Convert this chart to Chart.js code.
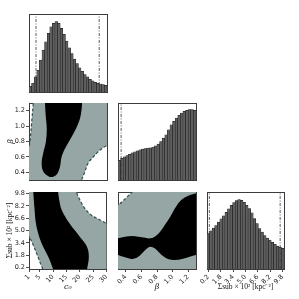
<!DOCTYPE html>
<html lang="en">
<head>
<meta charset="UTF-8">
<title>Corner plot</title>
<script src="https://cdn.jsdelivr.net/npm/chart.js"></script>
<style>
  html, body { margin: 0; padding: 0; background: #fff; }
  #wrap { position: relative; width: 299px; height: 299px; overflow: hidden; }
  #wrap canvas { position: absolute; }
</style>
</head>
<body>
<div id="wrap"></div>
<script>
// parameter ranges
var c0Range = [1, 30];
var betaRange = [0.3, 1.3];
var sigmaRange = [0, 10];

// tick values and labels
var c0Ticks = [1, 5, 10, 15, 20, 25, 30];
var c0TickLabels = ['1', '5', '10', '15', '20', '25', '30'];
var betaTicks = [0.4, 0.6, 0.8, 1.0, 1.2];
var betaTickLabels = ['0.4', '0.6', '0.8', '1.0', '1.2'];
var sigmaTicks = [0.2, 1.8, 3.4, 5.0, 6.6, 8.2, 9.8];
var sigmaTickLabels = ['0.2', '1.8', '3.4', '5.0', '6.6', '8.2', '9.8'];

// 1D marginal histograms (counts per bin)
var c0Counts = [17, 27, 45, 65, 95, 125, 150, 175, 195, 205, 210, 205, 190, 172, 152, 132, 115, 98, 85, 72, 62, 52, 45, 38, 33, 29, 26, 24, 22, 20];
var betaCounts = [59, 65, 69, 73, 77, 81, 84, 87, 90, 92, 94, 95, 96, 98, 102, 107, 115, 125, 135, 150, 165, 175, 185, 193, 200, 205, 208, 210, 210, 208];
var sigmaCounts = [107, 115, 123, 131, 141, 151, 160, 171, 181, 192, 200, 206, 209, 207, 201, 192, 182, 169, 152, 137, 122, 111, 101, 93, 87, 80, 74, 69, 65, 62];
var c0HistMax = 233, betaHistMax = 230, sigmaHistMax = 232;

// credible interval lines
var c0Lines = [3.6, 27.1];
var betaLines = [0.34];
var sigmaLines = [0.3, 9.5];

// c0 vs beta contours
var mlBlack = [{x: 6.9, y: 1.40}, {x: 6.95, y: 1.30}, {x: 7.2, y: 1.14}, {x: 7.6, y: 0.97}, {x: 7.3, y: 0.80}, {x: 6.3, y: 0.65}, {x: 5.7, y: 0.52}, {x: 6.3, y: 0.41}, {x: 8.2, y: 0.35}, {x: 9.8, y: 0.34}, {x: 11.3, y: 0.37}, {x: 12.5, y: 0.47}, {x: 13.1, y: 0.60}, {x: 14.4, y: 0.71}, {x: 16.5, y: 0.84}, {x: 18.5, y: 0.97}, {x: 19.96, y: 1.10}, {x: 20.6, y: 1.23}, {x: 20.7, y: 1.30}, {x: 20.8, y: 1.40}];
var mlLeftCurve = [{x: 1.0, y: 0.74}, {x: 1.37, y: 0.80}, {x: 2.0, y: 1.05}, {x: 2.6, y: 1.30}, {x: 2.75, y: 1.36}];
var mlRightCurve = [{x: 20.3, y: 0.24}, {x: 20.6, y: 0.30}, {x: 21.8, y: 0.41}, {x: 23.0, y: 0.52}, {x: 24.9, y: 0.60}, {x: 26.8, y: 0.67}, {x: 28.6, y: 0.72}, {x: 30.1, y: 0.75}, {x: 31, y: 0.77}];

// c0 vs sigma contours
var blBlack = [{x: 2.6, y: 10.5}, {x: 2.6, y: 10.0}, {x: 3.0, y: 8.1}, {x: 3.6, y: 5.9}, {x: 4.8, y: 4.2}, {x: 6.3, y: 2.9}, {x: 8.2, y: 1.6}, {x: 10.0, y: 0}, {x: 10.3, y: -0.5}, {x: 22.6, y: -0.5}, {x: 22.7, y: -0.1}, {x: 23.4, y: 1.6}, {x: 22.7, y: 2.9}, {x: 20.0, y: 4.2}, {x: 16.2, y: 5.9}, {x: 13.2, y: 7.7}, {x: 12.3, y: 9.0}, {x: 11.9, y: 10.0}, {x: 11.8, y: 10.5}];
var blTopCurve = [{x: 18.4, y: 10.5}, {x: 18.7, y: 10.0}, {x: 20.0, y: 9.0}, {x: 21.8, y: 7.9}, {x: 24.3, y: 7.0}, {x: 27.4, y: 6.4}, {x: 30.1, y: 5.9}, {x: 31, y: 5.8}];
var blLowCurve = [{x: 0.5, y: 4.5}, {x: 1.1, y: 4.2}, {x: 2.6, y: 3.1}, {x: 4.1, y: 1.8}, {x: 5.3, y: 0.7}, {x: 6.1, y: 0}, {x: 6.3, y: -0.5}];

// beta vs sigma contours
var bmBlack = [{x: 0.25, y: 3.9}, {x: 0.30, y: 3.98}, {x: 0.39, y: 4.2}, {x: 0.48, y: 4.29}, {x: 0.56, y: 4.2}, {x: 0.65, y: 4.07}, {x: 0.71, y: 3.98}, {x: 0.77, y: 4.2}, {x: 0.84, y: 4.85}, {x: 0.90, y: 5.72}, {x: 0.97, y: 6.8}, {x: 1.03, y: 7.88}, {x: 1.09, y: 8.75}, {x: 1.18, y: 9.4}, {x: 1.27, y: 9.74}, {x: 1.35, y: 9.8},
  {x: 1.35, y: 1.8}, {x: 1.30, y: 1.82}, {x: 1.22, y: 1.6}, {x: 1.12, y: 1.3}, {x: 1.03, y: 1.17}, {x: 0.95, y: 1.26}, {x: 0.86, y: 1.82}, {x: 0.77, y: 2.68}, {x: 0.71, y: 2.9}, {x: 0.65, y: 2.47}, {x: 0.56, y: 1.6}, {x: 0.48, y: 1.3}, {x: 0.39, y: 1.52}, {x: 0.30, y: 1.82}, {x: 0.25, y: 1.9}];
var bmCurve = [{x: 0.27, y: 8.1}, {x: 0.30, y: 8.3}, {x: 0.35, y: 8.7}, {x: 0.40, y: 9.2}, {x: 0.44, y: 9.6}, {x: 0.48, y: 10.0}, {x: 0.50, y: 10.3}];

// outer (grey) regions, built from the dashed boundaries
var mlGray = [{x: 0, y: 0.2}, {x: 0, y: 0.74}].concat(mlLeftCurve, [{x: 2.9, y: 1.45}, {x: 31, y: 1.45}], mlRightCurve.slice().reverse(), [{x: 20, y: 0.2}]);
var blGray = [{x: 0, y: 11}].concat(blTopCurve, [{x: 31, y: -1}], blLowCurve.slice().reverse(), [{x: 0, y: 4.5}]);
var bmGray = [{x: 0.2, y: -1}, {x: 0.2, y: 8.0}].concat(bmCurve, [{x: 0.52, y: 10.6}, {x: 1.4, y: 10.6}, {x: 1.4, y: -1}]);

var c0Title = 'c\u2080';
var betaTitle = '\u03b2';
var sigmaTitle = '\u03a3sub \u00d7 10\u00b2 [kpc\u207b\u00b2]';

var frameColor = '#3c3c3c';
var grayFill = '#96a6a5';
var tickFont = { family: 'DejaVu Sans', size: 6.5 };
var wrap = document.getElementById('wrap');

function binCenters(range, n) {
  var w = (range[1] - range[0]) / n;
  var out = [];
  for (var i = 0; i < n; i++) out.push(range[0] + (i + 0.5) * w);
  return out;
}

function histPoints(range, counts) {
  var xs = binCenters(range, counts.length);
  return counts.map(function (c, i) { return { x: xs[i], y: c }; });
}

function axis(dir, position, range, size, tickVals, tickLabels, title) {
  var showTicks = !!tickVals;
  var a = {
    type: 'linear', axis: dir, position: position,
    min: range[0], max: range[1], offset: false,
    grid: { display: showTicks, offset: false, drawOnChartArea: false, drawTicks: showTicks, tickLength: 3, tickColor: '#222', tickWidth: 0.8 },
    border: { display: true, color: frameColor, width: 1 },
    ticks: {
      display: showTicks, autoSkip: false, font: tickFont, color: '#222', padding: 1,
      minRotation: dir === 'x' ? 45 : 0, maxRotation: dir === 'x' ? 45 : 0,
      callback: function (v, i) { return tickLabels ? tickLabels[i] : ''; }
    },
    afterBuildTicks: function (s) {
      if (tickVals) s.ticks = tickVals.map(function (v) { return { value: v }; });
    },
    afterFit: function (s) { if (dir === 'x') s.height = size; else s.width = size; },
    title: { display: false }
  };
  if (title) {
    a.title = {
      display: true, text: title, color: '#111',
      font: { family: title === sigmaTitle ? 'Liberation Serif' : 'DejaVu Serif', size: title === sigmaTitle ? 7.5 : 8, style: title === sigmaTitle ? 'normal' : 'italic' },
      padding: dir === 'x' ? { top: 0, bottom: 7 } : { top: 6, bottom: 0 }
    };
  }
  return a;
}

function panel(box, m, datasets, xOpt, yOpt, type) {
  var c = document.createElement('canvas');
  c.width = box[2] - box[0] + m[0] + m[2];
  c.height = box[3] - box[1] + m[1] + m[3];
  c.style.left = (box[0] - m[0]) + 'px';
  c.style.top = (box[1] - m[1]) + 'px';
  wrap.appendChild(c);
  new Chart(c, {
    type: type,
    data: { datasets: datasets },
    options: {
      responsive: false, animation: false, events: [],
      layout: { padding: 0 },
      plugins: { legend: { display: false }, tooltip: { enabled: false } },
      scales: {
        x: axis('x', 'bottom', xOpt.range, m[3], xOpt.ticks, xOpt.labels, xOpt.title),
        y: axis('y', 'left', yOpt.range, m[0], yOpt.ticks, yOpt.labels, yOpt.title),
        x2: axis('x', 'top', [0, 1], m[1]),
        y2: axis('y', 'right', [0, 1], m[2])
      }
    }
  });
}

function histSets(range, counts, lines, top) {
  var sets = [{
    type: 'bar', data: histPoints(range, counts),
    backgroundColor: '#5e5e5e', borderColor: '#111', borderWidth: 0.5,
    barPercentage: 1, categoryPercentage: 1, order: 2
  }];
  lines.forEach(function (v) {
    sets.push({
      type: 'line', data: [{ x: v, y: 0 }, { x: v, y: top }],
      borderColor: '#333', borderWidth: 0.8, borderDash: [3, 1.5, 1, 1.5],
      pointRadius: 0, fill: false, order: 0
    });
  });
  return sets;
}

function region(points, color, order) {
  return {
    type: 'scatter', data: points, showLine: true, fill: 'shape',
    backgroundColor: color, borderWidth: 0, pointRadius: 0,
    tension: 0.35, capBezierPoints: false, order: order
  };
}

function dashed(points) {
  return {
    type: 'scatter', data: points, showLine: true, fill: false,
    borderColor: '#2f4f4f', borderWidth: 1.2, borderDash: [3, 2], pointRadius: 0,
    tension: 0.35, capBezierPoints: false, clip: 0, order: 0
  };
}

var noTicks = {};
// row 1
panel([29, 14, 107, 92], [29, 6, 6, 6], histSets(c0Range, c0Counts, c0Lines, c0HistMax),
  { range: c0Range }, { range: [0, c0HistMax] }, 'bar');
// row 2
panel([29, 103, 107, 180], [29, 6, 6, 6],
  [region(mlGray, grayFill, 3), region(mlBlack, '#000', 1), dashed(mlLeftCurve), dashed(mlRightCurve)],
  { range: c0Range }, { range: betaRange, ticks: betaTicks, labels: betaTickLabels, title: betaTitle }, 'scatter');
panel([118, 103, 196, 180], [16, 6, 6, 6], histSets(betaRange, betaCounts, betaLines, betaHistMax),
  { range: betaRange }, { range: [0, betaHistMax] }, 'bar');
// row 3
panel([29, 192, 107, 269], [29, 6, 6, 30],
  [region(blGray, grayFill, 3), region(blBlack, '#000', 1), dashed(blTopCurve), dashed(blLowCurve)],
  { range: c0Range, ticks: c0Ticks, labels: c0TickLabels, title: c0Title },
  { range: sigmaRange, ticks: sigmaTicks, labels: sigmaTickLabels, title: sigmaTitle }, 'scatter');
panel([118, 192, 196, 269], [16, 6, 6, 30],
  [region(bmGray, grayFill, 3), region(bmBlack, '#000', 1), dashed(bmCurve)],
  { range: betaRange, ticks: betaTicks, labels: betaTickLabels, title: betaTitle },
  { range: sigmaRange }, 'scatter');
panel([207, 192, 284, 269], [16, 6, 6, 30], histSets(sigmaRange, sigmaCounts, sigmaLines, sigmaHistMax),
  { range: sigmaRange, ticks: sigmaTicks, labels: sigmaTickLabels, title: sigmaTitle },
  { range: [0, sigmaHistMax] }, 'bar');
</script>
</body>
</html>
